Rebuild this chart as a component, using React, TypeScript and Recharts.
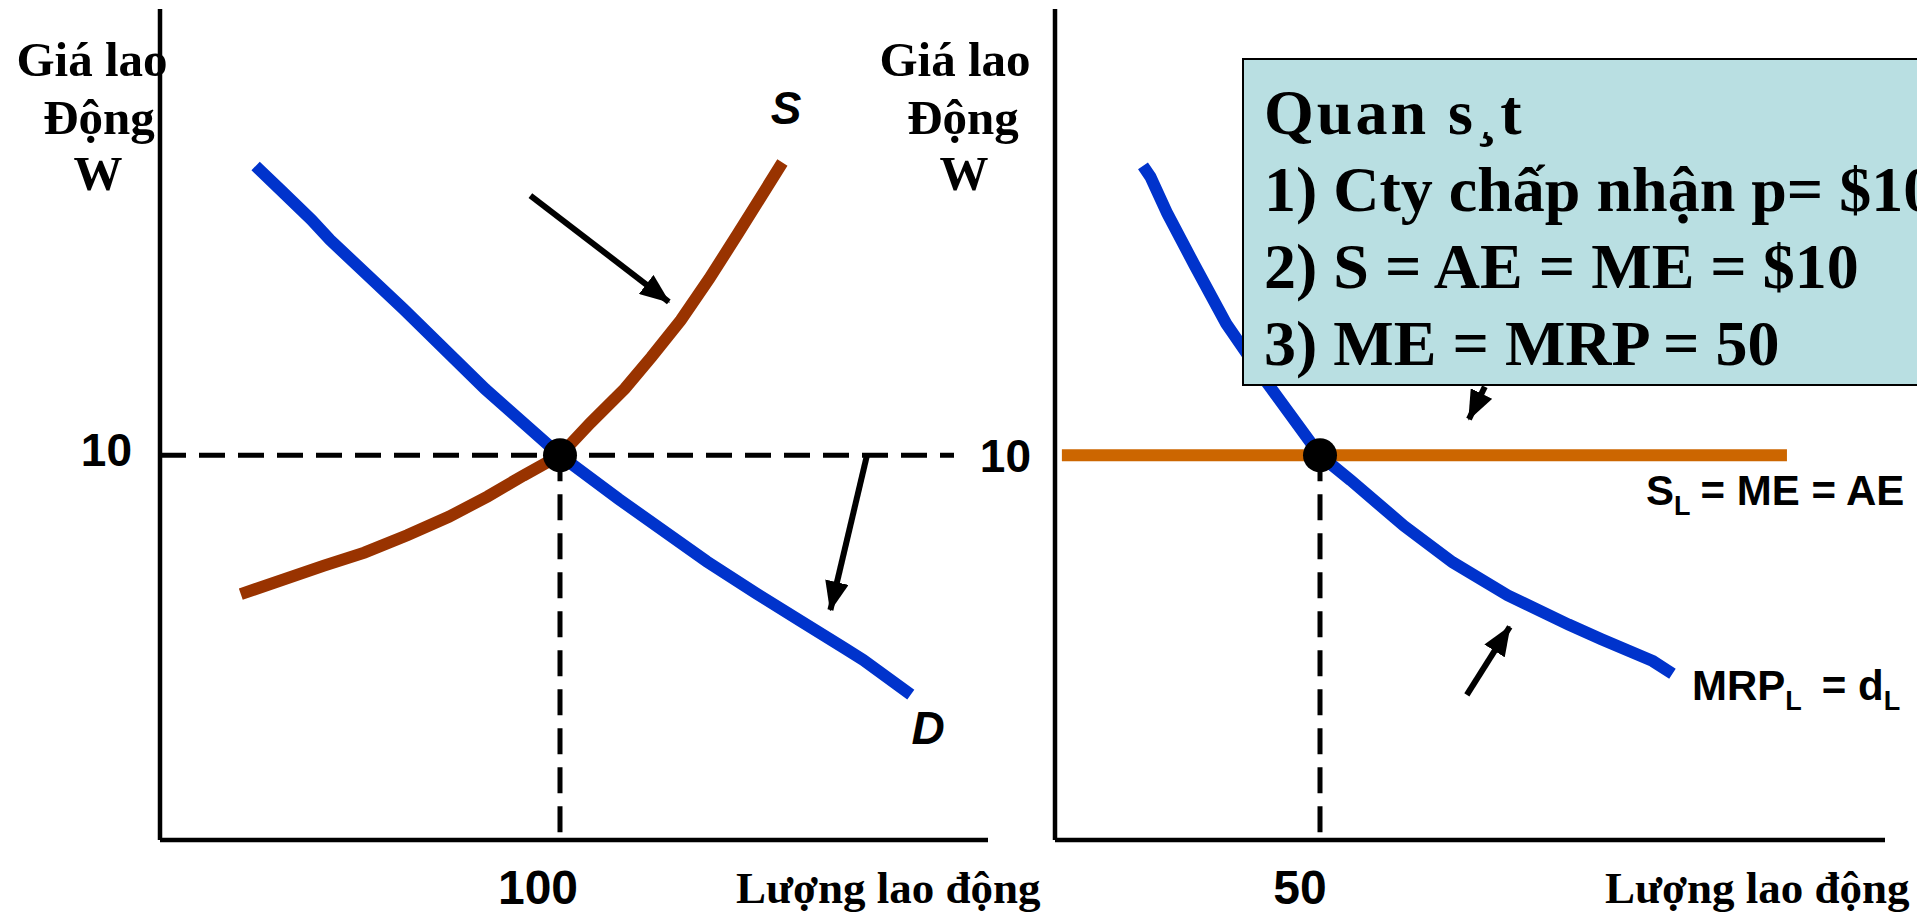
import React from "react";
import { LineChart, Line, XAxis, YAxis, ReferenceLine, ReferenceDot } from "recharts";

// left panel: market for labour (quantity, wage)
const demandMarket = [
  { x: 23.9, y: 17.52 }, { x: 30.9, y: 16.82 }, { x: 37.9, y: 16.12 }, { x: 42.5, y: 15.6 },
  { x: 60.9, y: 13.8 }, { x: 81.3, y: 11.72 }, { x: 100, y: 10 }, { x: 114.7, y: 8.86 },
  { x: 136.7, y: 7.24 }, { x: 148.9, y: 6.42 }, { x: 160.2, y: 5.69 }, { x: 170.9, y: 5.0 },
  { x: 175.8, y: 4.68 }, { x: 187.7, y: 3.78 },
];
const supplyMarket = [
  { x: 20.2, y: 6.39 }, { x: 41, y: 7.13 }, { x: 51.1, y: 7.47 }, { x: 61.8, y: 7.92 },
  { x: 72.2, y: 8.4 }, { x: 81.9, y: 8.93 }, { x: 90.8, y: 9.47 }, { x: 100, y: 10 },
  { x: 107.6, y: 10.84 }, { x: 116.2, y: 11.73 }, { x: 122.9, y: 12.56 }, { x: 130.2, y: 13.51 },
  { x: 137.3, y: 14.59 }, { x: 144.3, y: 15.73 }, { x: 155.6, y: 17.61 },
];
const arrowToS = [{ x: 92.6, y: 16.75 }, { x: 127.2, y: 13.99 }];
const arrowToD = [{ x: 176.7, y: 9.98 }, { x: 167.6, y: 5.98 }];

// right panel: the firm
const mrpFirm = [
  { x: 16.6, y: 17.52 }, { x: 18, y: 17.24 }, { x: 21.2, y: 16.28 }, { x: 26.3, y: 14.95 },
  { x: 32.3, y: 13.42 }, { x: 39.7, y: 11.94 }, { x: 50, y: 10 }, { x: 55.8, y: 9.35 },
  { x: 65.8, y: 8.17 }, { x: 75, y: 7.22 }, { x: 85.4, y: 6.36 }, { x: 96.9, y: 5.6 },
  { x: 103.1, y: 5.22 }, { x: 112.8, y: 4.65 }, { x: 116.5, y: 4.32 },
];
const supplyFirm = [{ x: 1.3, y: 10 }, { x: 138.1, y: 10 }];
const arrowFromBox = [{ x: 81.1, y: 11.78 }, { x: 78.1, y: 10.94 }];
const arrowToMrp = [{ x: 77.7, y: 3.77 }, { x: 85.8, y: 5.54 }];

const wageTicks = [10];
const marketQtyTicks = [100];
const firmQtyTicks = [50];
const wageEq = 10;
const marketQtyEq = 100;
const firmQtyEq = 50;

const noteLines = ["1) Cty chấp nhận p= $10", "2) S = AE = ME = $10", "3) ME = MRP = 50"];

const SERIF = "'Liberation Serif', 'Times New Roman', serif";
const SANS = "'Liberation Sans', Arial, sans-serif";
const BLUE = "#0033CC";
const BROWN = "#993300";
const ORANGE = "#CC6600";

const axisLine = { stroke: "#000", strokeWidth: 4.5 };
const dash = { stroke: "#000", strokeWidth: 5, strokeDasharray: "26 13" };

function ArrowDefs({ id }: { id: string }) {
  return (
    <defs>
      <marker id={id} viewBox="0 0 10 8" markerWidth={30} markerHeight={24} refX={9.5} refY={4} orient="auto" markerUnits="userSpaceOnUse">
        <path d="M0,0 L10,4 L0,8 z" fill="#000" />
      </marker>
    </defs>
  );
}

function makeYTick(textX: number, dy: number) {
  return (props: any) => (
    <text x={textX} y={props.y + dy} textAnchor="end" fontFamily={SANS} fontWeight="bold" fontSize={46} fill="#000">
      {props.payload.value}
    </text>
  );
}

function makeXTick(dx: number, baseline: number) {
  return (props: any) => (
    <text x={props.x + dx} y={baseline} textAnchor="middle" fontFamily={SANS} fontWeight="bold" fontSize={48} fill="#000">
      {props.payload.value}
    </text>
  );
}

function AxisTitle({ cx }: { cx: number[] }) {
  return (
    <g fontFamily={SERIF} fontWeight="bold" fontSize={49} fill="#000" textAnchor="middle">
      <text x={cx[0]} y={76}>Giá lao</text>
      <text x={cx[1]} y={134}>Động</text>
      <text x={cx[2]} y={190}>W</text>
    </g>
  );
}

const lineBase = { type: "linear" as const, dataKey: "y", dot: false, activeDot: false, isAnimationActive: false };

export default function App() {
  return (
    <div style={{ position: "absolute", left: 0, top: 0, width: 1917, height: 914, overflow: "hidden", background: "#fff" }}>
      <div style={{ position: "absolute", left: 0, top: 0 }}>
        <LineChart width={1000} height={914} margin={{ top: 9, right: 12, bottom: 0, left: 100 }}>
          <ArrowDefs id="arrL" />
          <XAxis type="number" dataKey="x" domain={[0, 207]} ticks={marketQtyTicks} height={74}
            axisLine={axisLine} tickLine={false} tick={makeXTick(-22, 904)} />
          <YAxis type="number" dataKey="y" domain={[0, 21.6]} ticks={wageTicks} width={60}
            axisLine={axisLine} tickLine={false} tick={makeYTick(132, 11)} />
          <ReferenceLine segment={[{ x: 0, y: wageEq }, { x: 198.5, y: wageEq }]} {...dash} />
          <ReferenceLine segment={[{ x: marketQtyEq, y: wageEq }, { x: marketQtyEq, y: 0 }]} {...dash} />
          <Line {...lineBase} data={supplyMarket} stroke={BROWN} strokeWidth={12} />
          <Line {...lineBase} data={demandMarket} stroke={BLUE} strokeWidth={12} />
          <Line {...lineBase} data={arrowToS} stroke="#000" strokeWidth={6} markerEnd="url(#arrL)" />
          <Line {...lineBase} data={arrowToD} stroke="#000" strokeWidth={6} markerEnd="url(#arrL)" />
          <ReferenceDot x={marketQtyEq} y={wageEq} r={17} fill="#000" stroke="none" />
        </LineChart>
      </div>
      <div style={{ position: "absolute", left: 960, top: 0 }}>
        <LineChart width={957} height={914} margin={{ top: 9, right: 32, bottom: 0, left: 40 }}>
          <ArrowDefs id="arrR" />
          <XAxis type="number" dataKey="x" domain={[0, 156.6]} ticks={firmQtyTicks} height={74}
            axisLine={axisLine} tickLine={false} tick={makeXTick(-20, 904)} />
          <YAxis type="number" dataKey="y" domain={[0, 21.6]} ticks={wageTicks} width={55}
            axisLine={axisLine} tickLine={false} tick={makeYTick(71, 17)} />
          <ReferenceLine segment={[{ x: firmQtyEq, y: wageEq }, { x: firmQtyEq, y: 0 }]} {...dash} />
          <Line {...lineBase} data={supplyFirm} stroke={ORANGE} strokeWidth={12} />
          <Line {...lineBase} data={mrpFirm} stroke={BLUE} strokeWidth={12} />
          <Line {...lineBase} data={arrowFromBox} stroke="#000" strokeWidth={6} markerEnd="url(#arrR)" />
          <Line {...lineBase} data={arrowToMrp} stroke="#000" strokeWidth={6} markerEnd="url(#arrR)" />
          <ReferenceDot x={firmQtyEq} y={wageEq} r={17} fill="#000" stroke="none" />
        </LineChart>
      </div>
      <svg width={1917} height={914} style={{ position: "absolute", left: 0, top: 0, pointerEvents: "none" }}>
        <AxisTitle cx={[92, 99, 98]} />
        <AxisTitle cx={[955, 963, 964]} />
        <g fontFamily={SERIF} fontWeight="bold" fontSize={45} fill="#000">
          <text x={736} y={903}>Lượng lao động</text>
          <text x={1605} y={903}>Lượng lao động</text>
        </g>
        <g fontFamily={SANS} fontWeight="bold" fontStyle="italic" fontSize={46} fill="#000" textAnchor="middle">
          <text x={786} y={124}>S</text>
          <text x={928} y={744}>D</text>
        </g>
        <rect x={1243} y={59} width={720} height={326} fill="#B9DFE2" stroke="#000" strokeWidth={2} />
        <g fontFamily={SERIF} fontWeight="bold" fontSize={64} fill="#000">
          <text x={1264} y={134} letterSpacing={3}>Quan s¸t</text>
          {noteLines.map((t, i) => (
            <text key={t} x={1264} y={211 + i * 77}>{t}</text>
          ))}
        </g>
        <g fontFamily={SANS} fontWeight="bold" fontSize={42} fill="#000">
          <text x={1646} y={505}>
            S<tspan dy={10} fontSize={27}>L</tspan><tspan dy={-10} dx={10}>= ME = AE</tspan>
          </text>
          <text x={1692} y={700}>
            MRP<tspan dy={10} fontSize={27}>L</tspan><tspan dy={-10} dx={20}>= d</tspan><tspan dy={10} fontSize={27}>L</tspan>
          </text>
        </g>
      </svg>
    </div>
  );
}
